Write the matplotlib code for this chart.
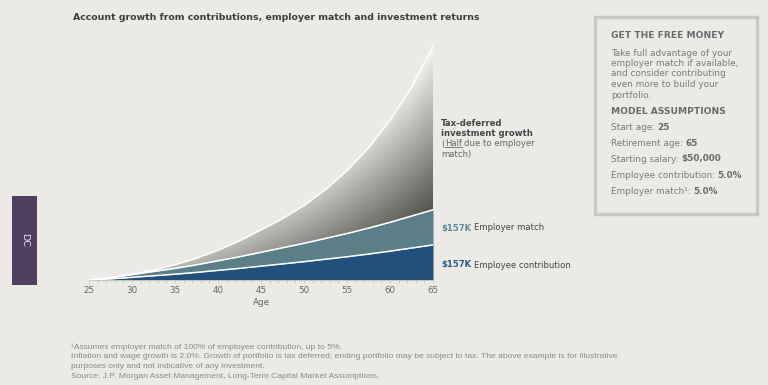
import matplotlib
matplotlib.use("Agg")
import matplotlib.pyplot as plt
from matplotlib.patches import Polygon, Rectangle
from matplotlib.lines import Line2D
import numpy as np

plt.rcParams['font.family'] = ['DejaVu Sans']

# values in $K, every 2.5 years
ages = [25, 27.5, 30, 32.5, 35, 37.5, 40, 42.5, 45, 47.5, 50, 52.5, 55, 57.5, 60, 62.5, 65]
employee = [0, 5, 12, 19, 26, 34, 43, 52, 62, 72, 82, 93, 104, 116, 129, 143, 157]
employer = [0, 5, 12, 19, 26, 34, 43, 52, 62, 72, 82, 93, 104, 116, 129, 143, 157]
total = [0, 10, 26, 44, 68, 97, 133, 175, 224, 274, 333, 404, 489, 591, 714, 861, 1045]
tick_ages = [25, 30, 35, 40, 45, 50, 55, 60, 65]

W, H = 768, 385
BG = '#ebeae6'
BLUE = '#22507c'
TEAL = '#5b7f87'

fig = plt.figure(figsize=(W / 100, H / 100), dpi=100, facecolor=BG)
ax = fig.add_axes([89 / W, 1 - 280 / H, (433 - 89) / W, (280 - 34) / H])
ax.set_facecolor(BG)

x = np.array(ages)
emp = np.array(employee)
mat = emp + np.array(employer)
tot = np.array(total)

ax.fill_between(x, 0, emp, color=BLUE, lw=0)
ax.fill_between(x, emp, mat, color=TEAL, lw=0)

# gray shading for investment growth: darker low in the band and toward age 65
ymax = 1100
verts = list(zip(x, tot)) + list(zip(x[::-1], mat[::-1]))
clip = Polygon(verts, closed=True, facecolor='none', edgecolor='none')
ax.add_patch(clip)
gx = np.linspace(25, 65, 500)
gy = np.linspace(0, ymax, 500)
GX, GY = np.meshgrid(gx, gy)
lo = np.interp(gx, x, mat)
hi = np.interp(gx, x, tot)
s = np.clip((GY - lo) / np.maximum(hi - lo, 1e-6), 0, 1)
uu = (GX - 25) / 40
bottom = 0.3 + 0.3 * uu + 0.4 * uu ** 2
top = 0.36 * (1 - uu ** 4)
d = (bottom * (1 - s) + top * s)[..., None]
light = np.array([245, 245, 243]) / 255
dark = np.array([84, 84, 78]) / 255
img = light * (1 - d) + dark * d
im = ax.imshow(img, extent=[25, 65, 0, ymax], origin='lower', aspect='auto', zorder=1)
im.set_clip_path(clip)

for line in (emp, mat, tot):
    ax.plot(x, line, color='white', lw=1.1, zorder=3)

ax.set_xlim(25, 65)
ax.set_ylim(0, ymax)
ax.set_yticks([])
ax.set_xticks(tick_ages)
ax.set_xticks(np.arange(25, 66, 1), minor=True)
ax.tick_params(axis='x', which='both', colors='#c4c2be', length=2.5, width=0.6,
               labelsize=6.3, labelcolor='#666666', pad=2)
for sp in ('top', 'right', 'left'):
    ax.spines[sp].set_visible(False)
ax.spines['bottom'].set_color('#cfcdc9')
ax.spines['bottom'].set_linewidth(0.6)
ax.set_xlabel('Age', fontsize=6.3, color='#666666', labelpad=2)

fig.text(73 / W, 1 - 17 / H, 'Account growth from contributions, employer match and investment returns',
         fontsize=6.75, fontweight='bold', color='#3d3d3d', va='center')

rend = fig.canvas.get_renderer()


def put(pieces, px, py, size):
    # pieces: (text, weight, color, gap after in px)
    cx = px
    out = []
    for txt, w, c, gap in pieces:
        t = fig.text(cx / W, 1 - py / H, txt, fontsize=size, fontweight=w, color=c,
                     va='center', ha='left')
        bb = t.get_window_extent(renderer=rend)
        out.append(bb)
        cx += bb.width + gap
    return out


SP = 2.6  # roughly one space

# labels right of the chart
put([('Tax-deferred', 'bold', '#454545', 0)], 441, 123, 6.15)
put([('investment growth', 'bold', '#454545', 0)], 441, 133, 6.15)
bbs = put([('(', 'normal', '#666666', 0.3), ('Half', 'normal', '#666666', SP),
           ('due to employer', 'normal', '#666666', 0)], 441, 144, 6.15)
hb = bbs[1]
fig.add_artist(Line2D([hb.x0 / W, hb.x1 / W], [(hb.y0 + 1.2) / H, (hb.y0 + 1.2) / H],
                      color='#666666', lw=0.6))
put([('match)', 'normal', '#666666', 0)], 441, 154, 6.15)
put([('$157K', 'bold', '#5b8a96', SP), ('Employer match', 'normal', '#454545', 0)], 441, 228, 6.15)
put([('$157K', 'bold', '#2b5a88', SP), ('Employee contribution', 'normal', '#454545', 0)], 441, 265, 6.15)

# side box
fig.add_artist(Rectangle((595 / W, 1 - 214 / H), 162 / W, 197 / H, transform=fig.transFigure,
                         fill=False, edgecolor='#cbc9c5', lw=2.5))
g1, g2 = '#6a6a6a', '#7a7a7a'
put([('GET THE FREE MONEY', 'bold', g1, 0)], 611, 36, 6.6)
body = ['Take full advantage of your', 'employer match if available,',
        'and consider contributing', 'even more to build your', 'portfolio.']
for i, line in enumerate(body):
    put([(line, 'normal', g2, 0)], 611, 53 + i * 10.5, 6.4)
put([('MODEL ASSUMPTIONS', 'bold', g1, 0)], 611, 111, 6.6)
rows = [('Start age:', '25'), ('Retirement age:', '65'), ('Starting salary:', '$50,000'),
        ('Employee contribution:', '5.0%'), ('Employer match\u00b9:', '5.0%')]
for i, (k, val) in enumerate(rows):
    put([(k, 'normal', g2, SP), (val, 'bold', g1, 0)], 611, 127 + i * 16, 6.4)

# DC tab
fig.add_artist(Rectangle((12 / W, 1 - 285 / H), 25 / W, 89 / H, transform=fig.transFigure,
                         facecolor='#4e3f61', edgecolor='none'))
fig.text(24.5 / W, 1 - 240 / H, 'DC', rotation=270, fontsize=6.8, color='#e6e2ea',
         ha='center', va='center')

notes = [(347, '\u00b9Assumes employer match of 100% of employee contribution, up to 5%.'),
         (357, 'Inflation and wage growth is 2.0%. Growth of portfolio is tax deferred; ending portfolio may be '
               'subject to tax. The above example is for illustrative'),
         (366, 'purposes only and not indicative of any investment.'),
         (377, 'Source: J.P. Morgan Asset Management, Long-Term Capital Market Assumptions.')]
for py, txt in notes:
    fig.text(71 / W, 1 - py / H, txt, fontsize=6.1, color='#8a8a8a', va='center',
             family=['Liberation Sans', 'DejaVu Sans'])

fig.savefig('out.png', dpi=100, facecolor=BG)
